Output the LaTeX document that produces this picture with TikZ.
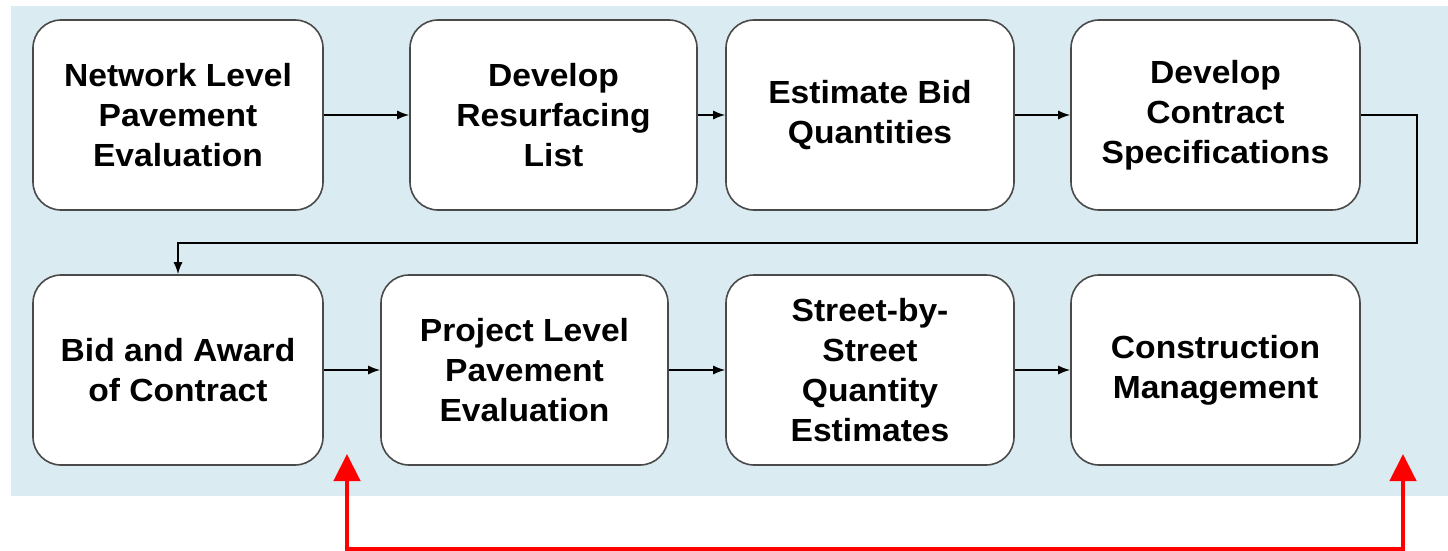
\documentclass[tikz,border=0pt]{standalone}
\usepackage{fontspec}
\setmainfont{Liberation Sans}[FakeStretch=1.05]
\usetikzlibrary{arrows.meta}
\definecolor{panelblue}{HTML}{DAEBF1}
\definecolor{boxline}{HTML}{4A4A4A}
\begin{document}
\begin{tikzpicture}[x=1pt,y=-1pt,
  stepbox/.style={draw=boxline, line width=1.6pt, fill=white, rounded corners=28pt,
    minimum height=190pt, inner sep=0pt, align=center,
    font=\bfseries\fontsize{32}{40}\selectfont},
  flow/.style={line width=1.5pt, -{Latex[length=12pt,width=9pt]}},
  loopback/.style={draw=red, line width=4.5pt, {Triangle[length=27pt,width=26pt]}-{Triangle[length=27pt,width=26pt]}}]
  \useasboundingbox (0,0) rectangle (1448,551);
  % background panel
  \fill[panelblue] (11,6) rectangle (1448,496);

  % top row
  \node[stepbox, minimum width=290pt] (b1) at (178,115) {Network Level\\Pavement\\Evaluation};
  \node[stepbox, minimum width=287pt] (b2) at (553.5,115) {Develop\\Resurfacing\\List};
  \node[stepbox, minimum width=288pt] (b3) at (870,115) {Estimate Bid\\Quantities};
  \node[stepbox, minimum width=289pt] (b4) at (1215.5,115) {Develop\\Contract\\Specifications};

  % bottom row
  \node[stepbox, minimum width=290pt] (b5) at (178,370) {Bid and Award\\of Contract};
  \node[stepbox, minimum width=287pt] (b6) at (524.5,370) {Project Level\\Pavement\\Evaluation};
  \node[stepbox, minimum width=288pt] (b7) at (870,370) {Street-by-\\Street\\Quantity\\Estimates};
  \node[stepbox, minimum width=289pt] (b8) at (1215.5,370) {Construction\\Management};

  % sequence connectors
  \draw[flow] (b1) -- (b2);
  \draw[flow] (b2) -- (b3);
  \draw[flow] (b3) -- (b4);
  \draw[flow] (b4.east) -- (1417,115) -- (1417,243) -| (b5.north);
  \draw[flow] (b5) -- (b6);
  \draw[flow] (b6) -- (b7);
  \draw[flow] (b7) -- (b8);

  % repeating cycle
  \coordinate (loopA) at (347,454);
  \coordinate (loopB) at (1403,454);
  \draw[loopback] (loopA) -- (347,549) -- (1403,549) -- (loopB);
\end{tikzpicture}
\end{document}
